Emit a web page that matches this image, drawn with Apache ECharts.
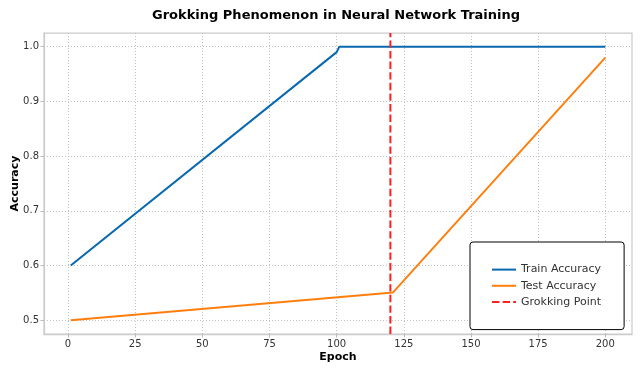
<!DOCTYPE html>
<html>
<head>
<meta charset="utf-8">
<script src="https://cdn.jsdelivr.net/npm/echarts@6/dist/echarts.min.js"></script>
<style>
html,body{margin:0;padding:0;background:#fff;}
#c{width:640px;height:373px;}
</style>
</head>
<body>
<div id="c"></div>
<script>
const xTicks = [0, 25, 50, 75, 100, 125, 150, 175, 200];
const yTicks = [0.5, 0.6, 0.7, 0.8, 0.9, 1.0];
const trainAccuracy = [[1, 0.6], [100, 0.99], [101, 1.0], [200, 1.0]];
const testAccuracy = [[1, 0.5], [121, 0.551], [200, 0.98]];
const grokkingEpoch = 120;
const xRange = [-8.95, 209.95];
const yRange = [0.475, 1.025];

const chart = echarts.init(document.getElementById('c'), null, {renderer: 'canvas'});
const font = 'DejaVu Sans';
chart.setOption({
  animation: false,
  backgroundColor: '#ffffff',
  title: {
    text: 'Grokking Phenomenon in Neural Network Training',
    left: 147, top: 4,
    textStyle: {fontFamily: font, fontSize: 13, fontWeight: 'bold', color: '#000'}
  },
  grid: {
    left: 44, right: 8, top: 33, bottom: 39,
    outerBoundsMode: 'none', containLabel: false,
    show: true, borderColor: '#cccccc', borderWidth: 1.25, backgroundColor: 'transparent'
  },
  legend: {
    orient: 'vertical',
    left: 470, top: 242,
    padding: [22, 23, 22, 21],
    itemWidth: 24, itemHeight: 14, itemGap: 5,
    backgroundColor: '#fff',
    borderColor: '#000', borderWidth: 1, borderRadius: 3,
    itemStyle: {color: 'rgba(0,0,0,0)', borderWidth: 0},
    textStyle: {fontFamily: font, fontSize: 11, color: '#333'},
    data: ['Train Accuracy', 'Test Accuracy', 'Grokking Point']
  },
  xAxis: {
    type: 'value', min: xRange[0], max: xRange[1],
    name: 'Epoch', nameLocation: 'middle', nameGap: 18, nameMoveOverlap: false,
    nameTextStyle: {fontFamily: font, fontSize: 11, fontWeight: 'bold', color: '#000'},
    axisLine: {show: true, onZero: false, lineStyle: {color: '#cccccc', width: 1.25}},
    axisTick: {show: true, length: 3.5, lineStyle: {color: '#bbbbbb'}, customValues: xTicks},
    axisLabel: {fontFamily: font, fontSize: 10, color: '#333', margin: 5, customValues: xTicks,
      formatter: v => String(v)},
    splitLine: {show: true, lineStyle: {color: '#b4b4b4', type: [1, 2], width: 0.8}}
  },
  yAxis: {
    type: 'value', min: yRange[0], max: yRange[1],
    name: 'Accuracy', nameLocation: 'middle', nameGap: 23, nameRotate: 90, nameMoveOverlap: false,
    nameTextStyle: {fontFamily: font, fontSize: 11, fontWeight: 'bold', color: '#000'},
    axisLine: {show: true, onZero: false, lineStyle: {color: '#cccccc', width: 1.25}},
    axisTick: {show: true, length: 3.5, lineStyle: {color: '#bbbbbb'}, customValues: yTicks},
    axisLabel: {fontFamily: font, fontSize: 10, color: '#333', margin: 5, customValues: yTicks,
      formatter: v => v.toFixed(1)},
    splitLine: {show: true, lineStyle: {color: '#b4b4b4', type: [1, 2], width: 0.8}}
  },
  series: [
    {
      name: 'Train Accuracy', type: 'line', data: trainAccuracy,
      symbol: 'none', lineStyle: {color: '#0868b0', width: 2}, itemStyle: {color: '#0868b0'}
    },
    {
      name: 'Test Accuracy', type: 'line', data: testAccuracy,
      symbol: 'none', lineStyle: {color: '#ff7f0e', width: 2}, itemStyle: {color: '#ff7f0e'}
    },
    {
      name: 'Grokking Point', type: 'line',
      data: [[grokkingEpoch, yRange[0]], [grokkingEpoch, yRange[1]]],
      symbol: 'none', lineStyle: {color: '#ff2020', width: 2, type: [7.4, 3.2]}, itemStyle: {color: '#ff2020'}
    }
  ]
});
</script>
</body>
</html>
